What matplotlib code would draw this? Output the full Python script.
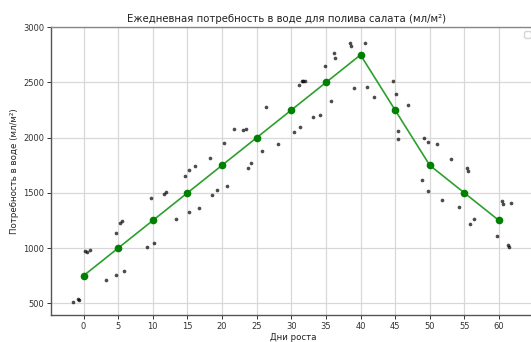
import matplotlib
matplotlib.use("Agg")
import matplotlib.pyplot as plt

# Model line (daily water demand)
days = [0, 5, 10, 15, 20, 25, 30, 35, 40, 45, 50, 55, 60]
demand = [750, 1000, 1250, 1500, 1750, 2000, 2250, 2500, 2750, 2250, 1750, 1500, 1250]

# Observed scatter points
obs_days = [-1.5, -0.85, -0.7, 0.25, 0.45, 0.9, 3.3, 4.7, 5.8, 4.7, 5.3, 5.6,
            9.1, 10.2, 9.75, 11.6, 11.9, 13.4, 15.3, 14.6, 15.2, 16.15, 16.7,
            18.3, 18.5, 19.3, 20.7, 20.3, 21.7, 23.1, 23.4, 23.8, 24.2, 25.8,
            26.4, 28.05, 30.4, 31.3, 31.1, 31.5, 31.7, 32.05, 33.1, 34.1, 34.85,
            35.7, 36.15, 36.25, 38.55, 38.65, 40.6, 39.0, 41.0, 41.9, 44.7,
            45.15, 46.8, 45.35, 45.4, 49.1, 49.8, 51.1, 53.1, 48.9, 49.8, 51.8,
            54.2, 55.35, 55.5, 56.4, 55.85, 60.5, 60.55, 61.8, 59.7, 61.3, 61.5]
obs_vals = [512, 540, 530, 976, 962, 980, 711, 759, 790, 1140, 1230, 1245,
            1010, 1049, 1454, 1493, 1505, 1264, 1330, 1656, 1710, 1744, 1366,
            1819, 1481, 1529, 1565, 1955, 2079, 2067, 2082, 1726, 1771, 1880,
            2278, 1946, 2054, 2100, 2477, 2516, 2516, 2516, 2185, 2208, 2649,
            2335, 2764, 2719, 2855, 2833, 2858, 2453, 2462, 2369, 2514,
            2396, 2299, 2058, 1986, 2000, 1958, 1940, 1807, 1617, 1517, 1436,
            1372, 1728, 1698, 1266, 1218, 1427, 1400, 1411, 1107, 1031, 1013]

x_ticks = list(range(0, 61, 5))
y_ticks = [500, 1000, 1500, 2000, 2500, 3000]

title = "Ежедневная потребность в воде для полива салата (мл/м²)"
xlabel = "Дни роста"
ylabel = "Потребность в воде (мл/м²)"

W, H = 531, 342
fig = plt.figure(figsize=(W / 100, H / 100), dpi=100)
ax = fig.add_axes([51 / W, (H - 315) / H, (535 - 51) / W, (315 - 27.3) / H])

ax.grid(True, color="#d8d8d8", linewidth=0.9)
ax.set_axisbelow(True)

ax.scatter(obs_days, obs_vals, s=7, color="black", alpha=0.7, linewidths=0, zorder=3)
ax.plot(days, demand, color="#2ca02c", linewidth=1.2, zorder=4)
ax.plot(days, demand, linestyle="none", marker="o", markersize=4.5,
        color="green", zorder=5)

ax.set_xlim(-4.7, 65.2)
ax.set_ylim(394, 3000)
ax.set_xticks(x_ticks)
ax.set_yticks(y_ticks)
ax.tick_params(labelsize=6, length=3, width=0.7, colors="#333333", pad=2)

for side in ["left", "bottom", "top", "right"]:
    ax.spines[side].set_color("#888888")
    ax.spines[side].set_linewidth(1.0)
ax.spines["left"].set_color("#555555")
ax.spines["bottom"].set_color("#555555")

ax.set_title(title, fontsize=7.3, color="#222222", pad=4, x=(287 - 51) / 484)
ax.set_xlabel(xlabel, fontsize=6.2, color="#222222", labelpad=1.5)
ax.set_ylabel(ylabel, fontsize=6.2, color="#222222", labelpad=3)

ax.legend(handles=[], loc="upper right", fontsize=6)

fig.savefig("out.png", dpi=100)
